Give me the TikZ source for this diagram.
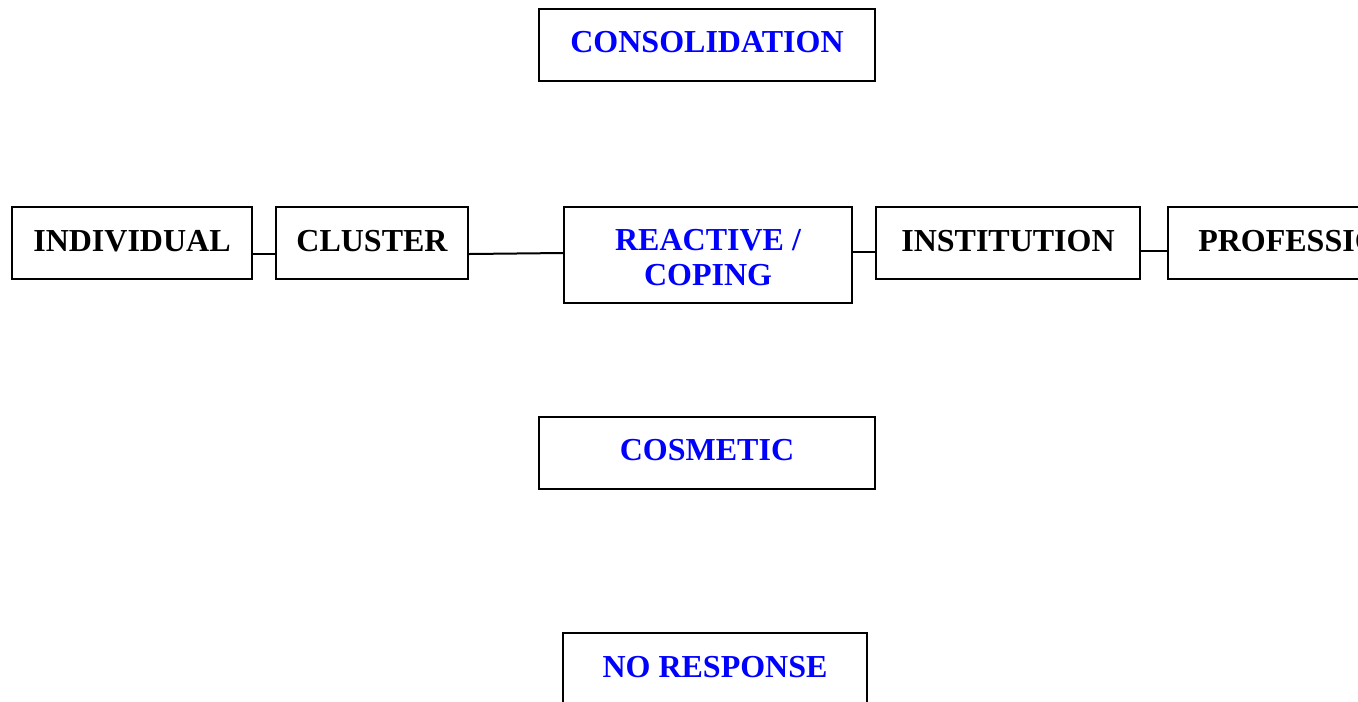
\documentclass[tikz,border=0pt]{standalone}
\usepackage{fontspec}
\setmainfont{Liberation Serif}
\begin{document}
\begin{tikzpicture}[x=0.75pt,y=-0.75pt,
  box/.style={draw=black,line width=1.5pt,rectangle,inner sep=0pt},
  bluetxt/.style={text=blue,font=\fontsize{24}{28}\selectfont\bfseries,anchor=base,inner sep=0pt},
  blacktxt/.style={text=black,font=\fontsize{24}{28}\selectfont\bfseries,anchor=base,inner sep=0pt},
  link/.style={draw=black,line width=1.5pt}]
\useasboundingbox (0,0) rectangle (1358,701);
\clip (0,0) rectangle (1358,701);
\fill[white] (0,0) rectangle (1358,701);
% boxes
\node[box,minimum width=336*0.75pt,minimum height=72*0.75pt] (cons) at (707,45) {};
\node[box,minimum width=240*0.75pt,minimum height=72*0.75pt] (indiv) at (132,243) {};
\node[box,minimum width=192*0.75pt,minimum height=72*0.75pt] (clus) at (372,243) {};
\node[box,minimum width=288*0.75pt,minimum height=96*0.75pt] (react) at (708,255) {};
\node[box,minimum width=264*0.75pt,minimum height=72*0.75pt] (inst) at (1008,243) {};
\node[box,minimum width=292*0.75pt,minimum height=72*0.75pt] (prof) at (1314,243) {};
\node[box,minimum width=336*0.75pt,minimum height=72*0.75pt] (cosm) at (707,453) {};
\node[box,minimum width=304*0.75pt,minimum height=72*0.75pt] (nores) at (715,669) {};
% texts
\node[bluetxt] (tcons) at (707,52) {CONSOLIDATION};
\node[blacktxt] (tindiv) at (132,251) {INDIVIDUAL};
\node[blacktxt] (tclus) at (372,251) {CLUSTER};
\node[bluetxt] (treact1) at (708,250) {REACTIVE /};
\node[bluetxt] (treact2) at (708,285) {COPING};
\node[blacktxt] (tinst) at (1008,251) {INSTITUTION};
\node[blacktxt,anchor=base west] (tprof) at (1198,251) {PROFESSIONAL};
\node[bluetxt] (tcosm) at (707,460) {COSMETIC};
\node[bluetxt] (tnores) at (715,677) {NO RESPONSE};
% connectors
\draw[link] (indiv.east |- 0,254) -- (clus.west |- 0,254);
\draw[link] (clus.east |- 0,254) -- (react.west |- 0,253);
\draw[link] (react.east |- 0,252) -- (inst.west |- 0,252);
\draw[link] (inst.east |- 0,251) -- (prof.west |- 0,251);
\end{tikzpicture}
\end{document}
